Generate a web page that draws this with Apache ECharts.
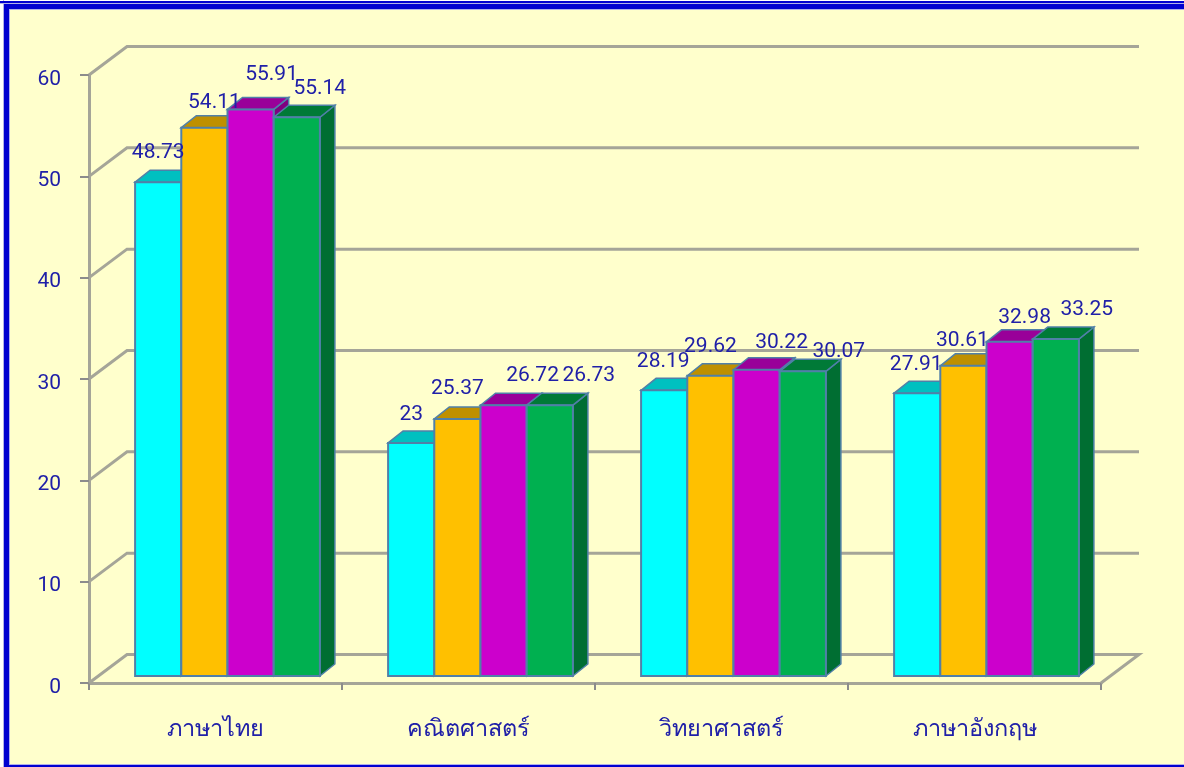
<!DOCTYPE html>
<html><head><meta charset="utf-8">
<style>html,body{margin:0;padding:0;background:#FFFFCC}#c{width:1184px;height:767px}</style>
<script src="https://cdn.jsdelivr.net/npm/echarts@6/dist/echarts.min.js"></script>
</head><body><div id="c"></div>
<script>
const categories = ['ภาษาไทย','คณิตศาสตร์','วิทยาศาสตร์','ภาษาอังกฤษ'];
const seriesA = [48.73, 23, 28.19, 27.91];
const seriesB = [54.11, 25.37, 29.62, 30.61];
const seriesC = [55.91, 26.72, 30.22, 32.98];
const seriesD = [55.14, 26.73, 30.07, 33.25];
const yTicks = [0,10,20,30,40,50,60];

const allSeries = [seriesA, seriesB, seriesC, seriesD];
const faces = [
  {front:'#00FFFF', top:'#00C0C0', side:'#009A9A'},
  {front:'#FFC000', top:'#BF9000', side:'#A07800'},
  {front:'#CC00CC', top:'#990099', side:'#800080'},
  {front:'#00B050', top:'#007A37', side:'#006E32'}
];
const labelNudge = [
  [[0,-29],[0,-28],[-1,-29],[-1,-28]],
  [[10,-25],[0,-30],[0,-29],[-1,-25]],
  [[21,-35],[29,-29],[25,-27],[15,-24]],
  [[23,-28],[39,-29],[36,-20],[31,-29]]
];
const INK='#2020A8', WALL='#A5A598', EDGE='#5080A8', FONT='Roboto,"Liberation Sans",sans-serif';
const WALL_DX=38, WALL_DY=-28.5, BAR_W=46.2, BAR_DX=15, BAR_DY=-12, SHIFT_X=12, SHIFT_Y=-7;

function wallItem(params, api){
  const v=api.value(0), r=params.coordSys;
  const p=api.coord([0,v]); const x0=r.x, x1=r.x+r.width, y=p[1];
  const pts = v===0 ? [[x0,y],[x0+WALL_DX,y+WALL_DY],[x1+WALL_DX,y+WALL_DY],[x1,y]]
                    : [[x0,y],[x0+WALL_DX,y+WALL_DY],[x1+WALL_DX,y+WALL_DY]];
  return {type:'polyline',shape:{points:pts},style:{stroke:WALL,lineWidth:3,fill:null}};
}
function barItemFor(si){
  return function(params, api){
    const c=api.value(0), v=api.value(1);
    const base=api.coord([c,0]), top=api.coord([c,v]);
    const xL=base[0]-2*BAR_W+si*BAR_W+SHIFT_X, xR=xL+BAR_W;
    const yB=base[1]+SHIFT_Y, yT=top[1]+SHIFT_Y;
    const f=faces[si];
    return {type:'group',children:[
      {type:'polygon',shape:{points:[[xR,yT],[xR+BAR_DX,yT+BAR_DY],[xR+BAR_DX,yB+BAR_DY],[xR,yB]]},style:{fill:f.side,stroke:EDGE,lineWidth:1.5}},
      {type:'polygon',shape:{points:[[xL,yT],[xL+BAR_DX,yT+BAR_DY],[xR+BAR_DX,yT+BAR_DY],[xR,yT]]},style:{fill:f.top,stroke:EDGE,lineWidth:1.5}},
      {type:'rect',shape:{x:xL,y:yT,width:BAR_W,height:yB-yT},style:{fill:f.front,stroke:EDGE,lineWidth:2}}
    ]};
  };
}
function labelItemFor(si){
  return function(params, api){
    const c=api.value(0), v=api.value(1);
    const base=api.coord([c,0]), top=api.coord([c,v]);
    const xL=base[0]-2*BAR_W+si*BAR_W+SHIFT_X;
    const n=labelNudge[si][c];
    return {type:'text',z2:100,style:{text:String(v),x:xL+BAR_W/2+n[0],y:top[1]+SHIFT_Y+n[1],
      textAlign:'center',textVerticalAlign:'middle',fill:INK,font:'21px '+FONT}};
  };
}
const series=[{type:'custom',z:1,silent:true,renderItem:wallItem,encode:{y:0},data:yTicks.map(t=>[t]),clip:false}];
categories.forEach((_,c)=>{
  allSeries.forEach((vals,si)=>{
    series.push({type:'custom',z:3,silent:true,clip:false,renderItem:barItemFor(si),encode:{x:0,y:1},data:[[c,vals[c]]]});
  });
});
allSeries.forEach((vals,si)=>{
  series.push({type:'custom',z:5,silent:true,clip:false,renderItem:labelItemFor(si),encode:{x:0,y:1},data:vals.map((v,c)=>[c,v])});
});
const chart=echarts.init(document.getElementById('c'),null,{renderer:'canvas'});
const BLUE='#0000D0', HALO='#B0B0E8';
const bar=(x,y,w,h,fill,z)=>({type:'rect',z:z,silent:true,shape:{x,y,width:w,height:h},style:{fill}});
chart.setOption({
  animation:false,
  backgroundColor:'#FFFFCC',
  grid:{left:89,right:83,top:75,bottom:84,containLabel:false},
  xAxis:{type:'category',data:categories,boundaryGap:true,
    axisLine:{lineStyle:{color:WALL,width:3}},
    axisTick:{show:true,alignWithLabel:false,length:7,lineStyle:{color:'#8C8C8C',width:2}},
    axisLabel:{color:INK,fontSize:23.5,margin:35,fontFamily:FONT},splitLine:{show:false}},
  yAxis:{type:'value',min:0,max:60,interval:10,
    axisLine:{show:true,lineStyle:{color:WALL,width:3}},
    axisTick:{show:true,length:9,lineStyle:{color:'#8C8C8C',width:2}},
    axisLabel:{color:INK,fontSize:21,margin:28,verticalAlign:'top',lineHeight:9,fontFamily:FONT},splitLine:{show:false}},
  series:series,
  graphic:[
    bar(0,0,4,767,'#FFFFFF',50),
    bar(0,0,1184,1,'#FFFFFF',50),
    bar(3,0,1,767,HALO,51),
    bar(0,1,1184,2,BLUE,52),
    bar(0,3,1184,1,HALO,52),
    bar(4,4,1180,5,BLUE,52),
    bar(4,4,5,763,BLUE,52),
    bar(9,9,1,756,HALO,52),
    bar(10,9,1174,1,HALO,52),
    bar(9,764,1175,1,HALO,52),
    bar(4,765,1180,2,BLUE,52)
  ]
});
</script></body></html>
